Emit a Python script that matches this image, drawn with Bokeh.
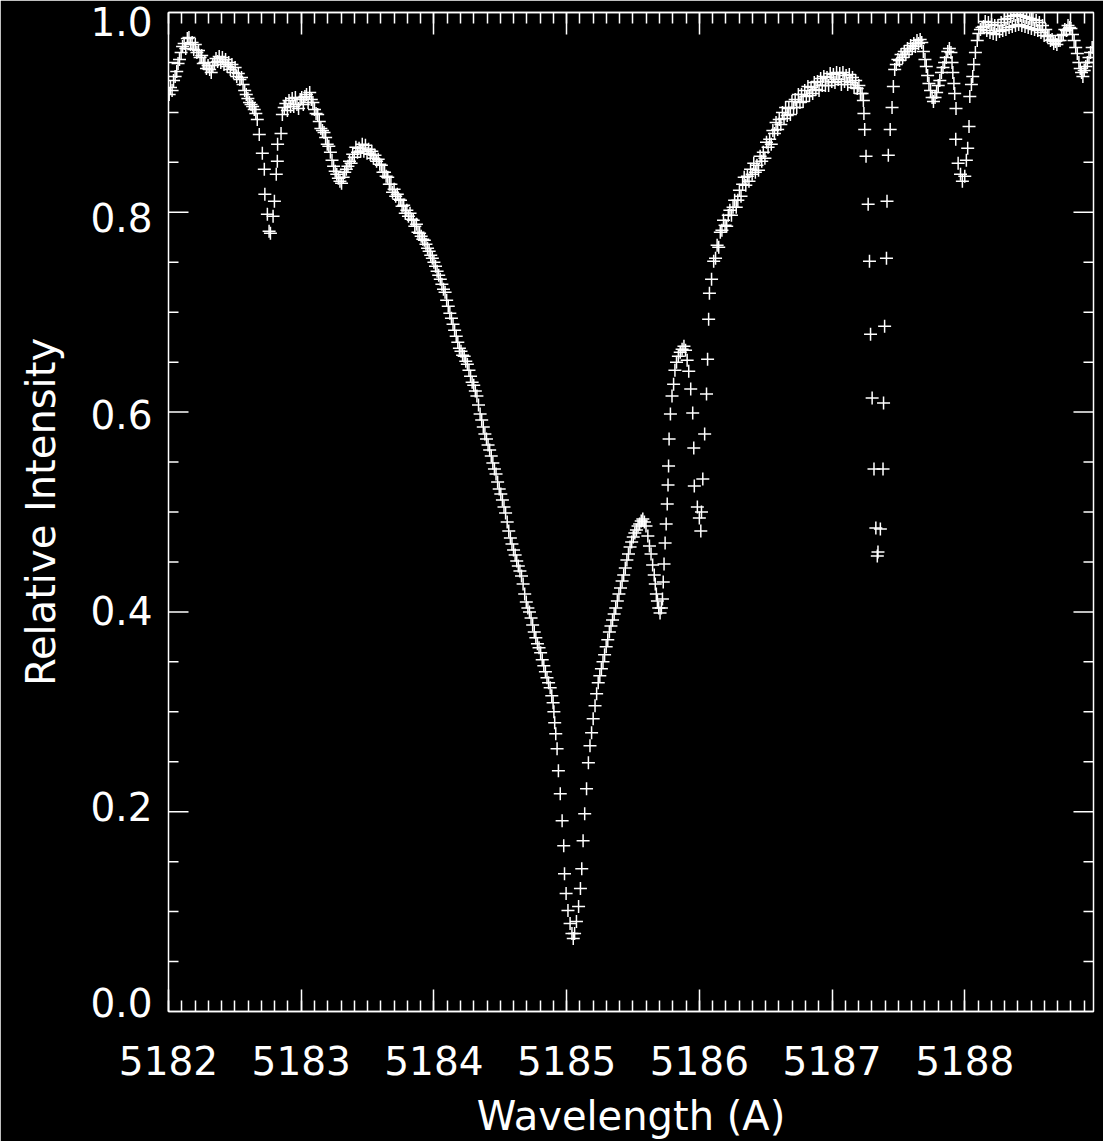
import math
from bokeh.plotting import figure
from bokeh.models import (ColumnDataSource, SingleIntervalTicker, FixedTicker, LinearAxis,
                          PrintfTickFormatter, CustomJSTickFormatter, Range1d)
from bokeh.embed import file_html
from bokeh.resources import INLINE

# ---------------- data ----------------
# blue continuum and the 5182.76 line
blue_wl = [5182.005, 5182.015, 5182.027, 5182.038, 5182.050, 5182.062, 5182.072, 5182.083, 5182.095, 5182.106,
           5182.118, 5182.130, 5182.142, 5182.154, 5182.166, 5182.178, 5182.190, 5182.202, 5182.214, 5182.226,
           5182.238, 5182.250, 5182.262, 5182.274, 5182.286, 5182.298, 5182.310, 5182.322, 5182.334, 5182.346,
           5182.358, 5182.370, 5182.382, 5182.394, 5182.406, 5182.418, 5182.430, 5182.442, 5182.454, 5182.466,
           5182.478, 5182.490, 5182.502, 5182.514, 5182.526, 5182.538, 5182.550, 5182.562, 5182.574, 5182.586,
           5182.598, 5182.610, 5182.622, 5182.634, 5182.646, 5182.658, 5182.669, 5182.684, 5182.707, 5182.722,
           5182.726, 5182.745, 5182.758, 5182.768]
blue_int = [0.918, 0.925, 0.922, 0.932, 0.936, 0.941, 0.949, 0.953, 0.960, 0.966,
            0.969, 0.964, 0.974, 0.975, 0.968, 0.970, 0.963, 0.968, 0.960, 0.962,
            0.955, 0.957, 0.949, 0.950, 0.944, 0.947, 0.943, 0.940, 0.947, 0.950,
            0.954, 0.951, 0.956, 0.950, 0.955, 0.948, 0.953, 0.946, 0.950, 0.943,
            0.948, 0.940, 0.945, 0.936, 0.939, 0.933, 0.935, 0.928, 0.922, 0.918,
            0.914, 0.910, 0.908, 0.906, 0.903, 0.899, 0.893, 0.878, 0.859, 0.843,
            0.818, 0.798, 0.781, 0.779]

# 5182.8 - 5183.9
mg_wl = [5182.788, 5182.798, 5182.812, 5182.820, 5182.822, 5182.848, 5182.858, 5182.872, 5182.884, 5182.896,
         5182.908, 5182.920, 5182.932, 5182.944, 5182.956, 5182.968, 5182.980, 5182.992, 5183.004, 5183.016,
         5183.028, 5183.040, 5183.052, 5183.064, 5183.076, 5183.088, 5183.100, 5183.112, 5183.124, 5183.136,
         5183.148, 5183.160, 5183.172, 5183.184, 5183.196, 5183.208, 5183.220, 5183.232, 5183.244, 5183.256,
         5183.268, 5183.280, 5183.292, 5183.304, 5183.316, 5183.328, 5183.340, 5183.352, 5183.364, 5183.376,
         5183.388, 5183.400, 5183.412, 5183.424, 5183.436, 5183.448, 5183.460, 5183.472, 5183.484, 5183.496,
         5183.508, 5183.520, 5183.532, 5183.544, 5183.556, 5183.568, 5183.580, 5183.592, 5183.604, 5183.616,
         5183.628, 5183.640, 5183.652, 5183.664, 5183.676, 5183.688, 5183.700, 5183.712, 5183.724, 5183.736,
         5183.748, 5183.760, 5183.772, 5183.784, 5183.796, 5183.808, 5183.820, 5183.832, 5183.844, 5183.856,
         5183.868, 5183.880, 5183.892]
mg_int = [0.796, 0.811, 0.838, 0.851, 0.868, 0.879, 0.898, 0.905, 0.909, 0.902,
          0.912, 0.906, 0.914, 0.906, 0.915, 0.908, 0.904, 0.913, 0.915, 0.908,
          0.916, 0.918, 0.910, 0.920, 0.913, 0.910, 0.903, 0.899, 0.898, 0.891,
          0.884, 0.882, 0.880, 0.875, 0.868, 0.866, 0.860, 0.852, 0.846, 0.841,
          0.838, 0.834, 0.831, 0.829, 0.835, 0.840, 0.843, 0.846, 0.851, 0.849,
          0.858, 0.855, 0.865, 0.860, 0.864, 0.861, 0.868, 0.861, 0.867, 0.859,
          0.863, 0.858, 0.861, 0.854, 0.857, 0.851, 0.853, 0.848, 0.847, 0.840,
          0.840, 0.836, 0.835, 0.828, 0.828, 0.820, 0.823, 0.816, 0.818, 0.813,
          0.812, 0.806, 0.807, 0.799, 0.802, 0.796, 0.799, 0.793, 0.792, 0.786,
          0.788, 0.780, 0.779]

# blue wing and core of the strong line
core_wl = [5183.904, 5183.916, 5183.928, 5183.940, 5183.952, 5183.964, 5183.976, 5183.988, 5184.000, 5184.012,
           5184.024, 5184.036, 5184.048, 5184.060, 5184.072, 5184.084, 5184.096, 5184.108, 5184.120, 5184.132,
           5184.144, 5184.156, 5184.168, 5184.180, 5184.192, 5184.204, 5184.216, 5184.228, 5184.240, 5184.252,
           5184.264, 5184.276, 5184.288, 5184.300, 5184.312, 5184.324, 5184.336, 5184.348, 5184.360, 5184.372,
           5184.384, 5184.396, 5184.408, 5184.420, 5184.432, 5184.444, 5184.456, 5184.468, 5184.480, 5184.492,
           5184.504, 5184.516, 5184.528, 5184.540, 5184.552, 5184.564, 5184.576, 5184.588, 5184.600, 5184.612,
           5184.624, 5184.636, 5184.648, 5184.660, 5184.672, 5184.684, 5184.696, 5184.708, 5184.720, 5184.732,
           5184.744, 5184.756, 5184.768, 5184.780, 5184.792, 5184.804, 5184.816, 5184.828, 5184.840, 5184.852,
           5184.864, 5184.876, 5184.888, 5184.898, 5184.904, 5184.910, 5184.918, 5184.928, 5184.938, 5184.952,
           5184.966, 5184.978, 5184.984, 5184.996, 5185.010, 5185.026, 5185.040, 5185.050]
core_int = [0.776, 0.773, 0.772, 0.768, 0.764, 0.761, 0.757, 0.754, 0.750, 0.746,
            0.741, 0.737, 0.733, 0.728, 0.723, 0.720, 0.712, 0.706, 0.699, 0.694,
            0.688, 0.682, 0.676, 0.670, 0.664, 0.661, 0.657, 0.656, 0.651, 0.648,
            0.642, 0.636, 0.630, 0.627, 0.621, 0.616, 0.607, 0.598, 0.592, 0.585,
            0.578, 0.573, 0.567, 0.562, 0.556, 0.549, 0.543, 0.538, 0.530, 0.523,
            0.518, 0.512, 0.505, 0.499, 0.490, 0.481, 0.474, 0.468, 0.462, 0.457,
            0.451, 0.446, 0.441, 0.436, 0.428, 0.418, 0.410, 0.404, 0.400, 0.394,
            0.387, 0.380, 0.374, 0.368, 0.364, 0.359, 0.352, 0.346, 0.340, 0.334,
            0.329, 0.324, 0.316, 0.309, 0.300, 0.289, 0.278, 0.263, 0.241, 0.218,
            0.191, 0.166, 0.138, 0.118, 0.101, 0.088, 0.078, 0.073]

# red side of the strong line and the two lines near 5185.7 / 5186.0
red_wl = [5185.060, 5185.074, 5185.090, 5185.104, 5185.114, 5185.124, 5185.136, 5185.150, 5185.164, 5185.176,
          5185.188, 5185.200, 5185.214, 5185.226, 5185.238, 5185.250, 5185.262, 5185.274, 5185.286, 5185.298,
          5185.310, 5185.322, 5185.334, 5185.346, 5185.358, 5185.370, 5185.382, 5185.394, 5185.406, 5185.418,
          5185.430, 5185.442, 5185.454, 5185.466, 5185.478, 5185.490, 5185.502, 5185.514, 5185.526, 5185.538,
          5185.550, 5185.562, 5185.574, 5185.586, 5185.598, 5185.612, 5185.624, 5185.636, 5185.648, 5185.660,
          5185.668, 5185.676, 5185.684, 5185.694, 5185.704, 5185.714, 5185.722, 5185.728, 5185.734, 5185.742,
          5185.750, 5185.758, 5185.764, 5185.768, 5185.772, 5185.782, 5185.794, 5185.806, 5185.816, 5185.828,
          5185.842, 5185.856, 5185.870, 5185.884, 5185.896, 5185.908, 5185.920, 5185.935, 5185.950, 5185.958,
          5185.962, 5185.985, 5186.000, 5186.011, 5186.016, 5186.026, 5186.040, 5186.054, 5186.062, 5186.070,
          5186.076]
red_int = [0.078, 0.090, 0.105, 0.123, 0.143, 0.171, 0.198, 0.223, 0.249, 0.266,
           0.279, 0.293, 0.306, 0.318, 0.329, 0.336, 0.343, 0.350, 0.357, 0.365,
           0.372, 0.380, 0.386, 0.392, 0.398, 0.404, 0.411, 0.418, 0.424, 0.431,
           0.437, 0.444, 0.452, 0.458, 0.465, 0.470, 0.475, 0.479, 0.482, 0.486,
           0.488, 0.491, 0.493, 0.490, 0.486, 0.476, 0.466, 0.458, 0.447, 0.437,
           0.428, 0.418, 0.411, 0.404, 0.399, 0.404, 0.413, 0.430, 0.448, 0.469,
           0.488, 0.508, 0.527, 0.546, 0.573, 0.598, 0.616, 0.628, 0.642, 0.650,
           0.656, 0.660, 0.663, 0.666, 0.662, 0.652, 0.641, 0.623, 0.599, 0.564,
           0.526, 0.505, 0.494, 0.481, 0.500, 0.533, 0.578, 0.618, 0.653, 0.693,
           0.719]

# rising continuum 5186.1 - 5187.24
wing_wl = [5186.092, 5186.108, 5186.122, 5186.134, 5186.146, 5186.158, 5186.170, 5186.182, 5186.194, 5186.206,
           5186.218, 5186.230, 5186.242, 5186.254, 5186.266, 5186.278, 5186.290, 5186.302, 5186.314, 5186.326,
           5186.338, 5186.350, 5186.362, 5186.374, 5186.386, 5186.398, 5186.410, 5186.422, 5186.434, 5186.446,
           5186.458, 5186.470, 5186.482, 5186.494, 5186.506, 5186.518, 5186.530, 5186.542, 5186.554, 5186.566,
           5186.578, 5186.590, 5186.602, 5186.614, 5186.626, 5186.638, 5186.650, 5186.662, 5186.674, 5186.686,
           5186.698, 5186.710, 5186.722, 5186.734, 5186.746, 5186.758, 5186.770, 5186.782, 5186.794, 5186.806,
           5186.818, 5186.830, 5186.842, 5186.854, 5186.866, 5186.878, 5186.890, 5186.902, 5186.914, 5186.926,
           5186.938, 5186.950, 5186.962, 5186.974, 5186.986, 5186.998, 5187.010, 5187.022, 5187.034, 5187.046,
           5187.058, 5187.070, 5187.082, 5187.094, 5187.106, 5187.118, 5187.130, 5187.142, 5187.154, 5187.166,
           5187.178, 5187.190, 5187.202, 5187.214, 5187.226, 5187.236]
wing_int = [0.733, 0.751, 0.754, 0.767, 0.765, 0.780, 0.782, 0.792, 0.787, 0.786,
            0.797, 0.802, 0.797, 0.805, 0.812, 0.805, 0.812, 0.822, 0.816, 0.828,
            0.835, 0.827, 0.836, 0.831, 0.843, 0.838, 0.849, 0.840, 0.847, 0.842,
            0.856, 0.851, 0.860, 0.854, 0.870, 0.865, 0.873, 0.868, 0.882, 0.879,
            0.890, 0.883, 0.893, 0.888, 0.900, 0.894, 0.905, 0.897, 0.904, 0.898,
            0.911, 0.905, 0.913, 0.905, 0.918, 0.910, 0.918, 0.911, 0.922, 0.916,
            0.926, 0.917, 0.925, 0.919, 0.930, 0.923, 0.931, 0.922, 0.934, 0.927,
            0.936, 0.927, 0.935, 0.927, 0.939, 0.931, 0.938, 0.930, 0.940, 0.933,
            0.939, 0.928, 0.940, 0.931, 0.937, 0.928, 0.938, 0.930, 0.935, 0.925,
            0.932, 0.924, 0.927, 0.919, 0.919, 0.912]

# 5187.24 - 5188.96 (narrow lines and red continuum)
fe_wl = [5187.240, 5187.246, 5187.256, 5187.272, 5187.282, 5187.290, 5187.302, 5187.316, 5187.330, 5187.341,
         5187.346, 5187.364, 5187.384, 5187.388, 5187.396, 5187.410, 5187.414, 5187.424, 5187.438, 5187.452,
         5187.462, 5187.472, 5187.484, 5187.496, 5187.508, 5187.520, 5187.532, 5187.544, 5187.556, 5187.568,
         5187.580, 5187.592, 5187.604, 5187.616, 5187.628, 5187.640, 5187.652, 5187.664, 5187.676, 5187.688,
         5187.700, 5187.710, 5187.720, 5187.730, 5187.742, 5187.754, 5187.764, 5187.776, 5187.788, 5187.800,
         5187.812, 5187.824, 5187.836, 5187.848, 5187.860, 5187.872, 5187.884, 5187.896, 5187.904, 5187.910,
         5187.918, 5187.924, 5187.934, 5187.932, 5187.950, 5187.968, 5187.982, 5188.000, 5188.012, 5188.022,
         5188.032, 5188.038, 5188.050, 5188.060, 5188.068, 5188.080, 5188.094, 5188.106, 5188.118, 5188.130,
         5188.142, 5188.154, 5188.166, 5188.178, 5188.190, 5188.202, 5188.214, 5188.226, 5188.238, 5188.250,
         5188.262, 5188.274, 5188.286, 5188.298, 5188.310, 5188.322, 5188.334, 5188.346, 5188.358, 5188.370,
         5188.382, 5188.394, 5188.406, 5188.418, 5188.430, 5188.442, 5188.454, 5188.466, 5188.478, 5188.490,
         5188.502, 5188.514, 5188.526, 5188.538, 5188.550, 5188.562, 5188.574, 5188.586, 5188.598, 5188.610,
         5188.622, 5188.634, 5188.646, 5188.658, 5188.670, 5188.682, 5188.694, 5188.706, 5188.718, 5188.730,
         5188.742, 5188.754, 5188.766, 5188.778, 5188.790, 5188.800, 5188.812, 5188.824, 5188.836, 5188.848,
         5188.860, 5188.870, 5188.880, 5188.890, 5188.900, 5188.912, 5188.924, 5188.936, 5188.948, 5188.960]
fe_int = [0.899, 0.883, 0.856, 0.808, 0.751, 0.678, 0.614, 0.543, 0.484, 0.456,
          0.460, 0.483, 0.543, 0.609, 0.686, 0.754, 0.811, 0.857, 0.883, 0.905,
          0.926, 0.943, 0.948, 0.953, 0.952, 0.958, 0.955, 0.961, 0.958, 0.964,
          0.961, 0.967, 0.964, 0.969, 0.966, 0.972, 0.969, 0.973, 0.970, 0.961,
          0.953, 0.946, 0.937, 0.929, 0.922, 0.915, 0.911, 0.915, 0.920, 0.927,
          0.932, 0.940, 0.945, 0.950, 0.955, 0.961, 0.964, 0.960, 0.950, 0.940,
          0.929, 0.919, 0.904, 0.873, 0.849, 0.838, 0.831, 0.836, 0.852, 0.864,
          0.886, 0.916, 0.928, 0.936, 0.948, 0.960, 0.972, 0.979, 0.983, 0.985,
          0.986, 0.991, 0.982, 0.990, 0.980, 0.988, 0.979, 0.987, 0.978, 0.987,
          0.981, 0.990, 0.982, 0.993, 0.983, 0.994, 0.985, 0.996, 0.986, 0.997,
          0.987, 0.998, 0.988, 0.997, 0.987, 0.996, 0.986, 0.995, 0.985, 0.994,
          0.984, 0.993, 0.983, 0.992, 0.982, 0.990, 0.980, 0.987, 0.977, 0.983,
          0.976, 0.977, 0.972, 0.973, 0.969, 0.971, 0.968, 0.972, 0.972, 0.977,
          0.978, 0.983, 0.982, 0.987, 0.985, 0.984, 0.978, 0.972, 0.965, 0.959,
          0.950, 0.944, 0.940, 0.936, 0.942, 0.946, 0.950, 0.955, 0.960, 0.965]

# axis ticks and labels
ytick_values = [0.0, 0.2, 0.4, 0.6, 0.8, 1.0]
ytick_minor = [0.05, 0.1, 0.15, 0.25, 0.3, 0.35, 0.45, 0.5, 0.55, 0.65, 0.7, 0.75, 0.85, 0.9, 0.95]

# ---------------- style ----------------
FONT = "DejaVu Sans"
FS = "39px"
FS_TITLE = "40px"
FG = "white"
LW = 1.5
# the left tick labels sit on a slightly compressed scale so the end labels stay inside
LABEL_SCALE = (-0.0095, 1.0096)

X0, X1 = 5182.0, 5188.97
Y0, Y1 = 0.0, 1.0
RIGHT_EDGE = X1 - 1e-4        # anchor of the right tick marks, just inside the frame edge

wavelength = blue_wl + mg_wl + core_wl + red_wl + wing_wl + fe_wl
intensity = blue_int + mg_int + core_int + red_int + wing_int + fe_int
src = ColumnDataSource(dict(wl=wavelength, flux=intensity))

p = figure(frame_width=925, frame_height=999,
           x_range=Range1d(X0, X1), y_range=Range1d(Y0, Y1), y_axis_type=None,
           output_backend="svg", toolbar_location=None,
           min_border_left=168, min_border_right=10, min_border_top=12, min_border_bottom=60,
           background_fill_color="black", border_fill_color="black",
           outline_line_color=FG, outline_line_width=LW)
p.grid.visible = False


def style_x_ticks(ax):
    ax.ticker = SingleIntervalTicker(interval=1, num_minor_ticks=10)
    ax.axis_line_color = FG
    ax.axis_line_width = LW
    ax.major_tick_line_color = FG
    ax.minor_tick_line_color = FG
    ax.major_tick_line_width = LW
    ax.minor_tick_line_width = LW
    ax.major_tick_in = 22
    ax.major_tick_out = 0
    ax.minor_tick_in = 11
    ax.minor_tick_out = 0


# bottom axis: real ticks and labels
xax = p.xaxis[0]
style_x_ticks(xax)
xax.major_label_text_font = FONT
xax.major_label_text_font_size = FS
xax.major_label_text_color = FG
xax.major_label_standoff = 34
xax.axis_label = "Wavelength (A)"
xax.axis_label_text_font = FONT
xax.axis_label_text_font_size = FS_TITLE
xax.axis_label_text_color = FG
xax.axis_label_text_font_style = "normal"
xax.axis_label_standoff = 15

# top axis: the same inward ticks, no labels
top = LinearAxis(formatter=CustomJSTickFormatter(code="return ''"))
style_x_ticks(top)
top.major_label_text_font_size = "1px"
top.major_label_standoff = 0
p.add_layout(top, "above")

# left axis: tick labels and title (tick marks drawn below)
p.extra_y_ranges = {"labels": Range1d(*LABEL_SCALE)}
yax = LinearAxis(y_range_name="labels", ticker=FixedTicker(ticks=ytick_values),
                 formatter=PrintfTickFormatter(format="%.1f"))
yax.axis_line_color = None
yax.major_tick_line_color = None
yax.minor_tick_line_color = None
yax.major_tick_in = 0
yax.major_tick_out = 0
yax.minor_tick_in = 0
yax.minor_tick_out = 0
yax.major_label_text_font = FONT
yax.major_label_text_font_size = FS
yax.major_label_text_color = FG
yax.major_label_standoff = 16
yax.axis_label = "Relative Intensity"
yax.axis_label_text_font = FONT
yax.axis_label_text_font_size = FS_TITLE
yax.axis_label_text_color = FG
yax.axis_label_text_font_style = "normal"
yax.axis_label_standoff = 23
p.add_layout(yax, "left")

# inward tick marks on the left and right edges (rays in screen pixels)
ymaj = ytick_values[1:-1]
ray_kw = dict(length_units="screen", line_color=FG, line_width=LW)
p.ray(x=[X0] * len(ymaj), y=ymaj, length=20, angle=0, **ray_kw)
p.ray(x=[X0] * len(ytick_minor), y=ytick_minor, length=10, angle=0, **ray_kw)
p.ray(x=[RIGHT_EDGE] * len(ymaj), y=ymaj, length=20, angle=math.pi, **ray_kw)
p.ray(x=[RIGHT_EDGE] * len(ytick_minor), y=ytick_minor, length=10, angle=math.pi, **ray_kw)

# the spectrum
p.scatter("wl", "flux", source=src, marker="cross", size=13,
          line_color=FG, line_width=LW)

open("out.html", "w").write(file_html(p, INLINE))
